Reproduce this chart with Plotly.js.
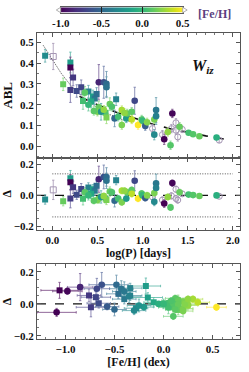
<!DOCTYPE html>
<html><head><meta charset="utf-8">
<script src="https://cdn.plot.ly/plotly-3.0.1.min.js"></script>
<style>html,body{margin:0;padding:0;background:#fff}#chart{width:249px;height:372px}</style>
</head><body><div id="chart"></div>
<script>
// ---- data ----
const logP = [-0.08,0.01,0.12,0.20,0.20,0.20,0.23,0.27,0.32,0.36,
  0.34,0.40,0.45,0.47,0.49,0.515,0.515,0.50,0.57,0.60,
  0.60,0.637,0.59,0.60,0.707,0.69,0.73,0.77,0.77,0.82,
  0.83,0.88,0.913,0.95,0.99,1.00,1.03,1.13,1.15,1.15,
  1.13,1.11,1.24,1.22,1.28,1.31,1.33,1.32,1.37,1.39,
  1.37,1.41,1.44,1.51,1.56,1.63,1.82,1.85,0.54,0.57,
  0.88,0.46,0.40,0.43,0.66,1.05,0.80];
const abl = [0.435,0.432,0.298,0.403,0.379,0.271,0.331,0.266,0.284,0.258,
  0.218,0.263,0.24,0.23,0.252,0.308,0.187,0.166,0.308,0.30,
  0.284,0.203,0.161,0.139,0.226,0.134,0.142,0.174,0.102,0.134,
  0.158,0.166,0.219,0.102,0.129,0.123,0.097,0.129,0.174,0.145,
  0.056,0.085,0.034,0.056,0.069,0.005,0.158,0.085,0.113,0.045,
  0.077,0.094,0.081,0.065,0.058,0.048,0.042,0.029,0.166,0.176,
  0.129,0.17,0.20,0.215,0.19,0.115,0.16];
const ablErr = [0.03,0.063,0.03,0.05,0.05,0.06,0.04,0.03,0.035,0.03,
  0.04,0.03,0.03,0.03,0.03,0.085,0.03,0.02,0.077,0.06,
  0.05,0.03,0.03,0.03,0.03,0.04,0.02,0.02,0.02,0.02,
  0.02,0.02,0.065,0.02,0.02,0.02,0.02,0.02,0.06,0.04,
  0.025,0.02,0.025,0.02,0.02,0.02,0.02,0.02,0.02,0.02,
  0.02,0.02,0.015,0.01,0.01,0.01,0.01,0.01,0.04,0.02,
  0.02,0.02,0.03,0.03,0.02,0.02,0.02];
const delta = [-0.027,0.036,-0.038,0.112,0.085,-0.021,0.053,0.004,0.042,0.02,
  -0.022,0.052,0.04,0.03,0.063,0.105,-0.02,-0.03,0.12,0.12,
  0.095,0.025,-0.02,-0.03,0.099,-0.035,-0.02,0.03,-0.045,-0.02,
  0.02,0.035,0.095,-0.021,0.012,0.0,-0.017,0.015,0.078,0.048,
  -0.042,-0.01,-0.053,-0.03,-0.01,-0.078,0.08,-0.003,0.04,-0.03,
  -0.02,0.02,0.01,0.005,0.002,-0.004,0.0,-0.006,-0.01,-0.005,
  0.01,-0.035,0.0,0.01,0.02,0.0,0.03];
const feh = [-0.28,null,0.15,-0.18,-1.06,-0.74,-0.76,-0.66,-0.69,0.12,
  0.05,-0.34,-0.16,-0.4,-0.46,-0.85,0.15,0.2,-0.63,-0.48,
  -0.43,0.15,0.1,0.2,-0.34,-0.5,0.05,0.3,0.2,-0.2,
  0.15,0.12,-0.68,0.54,0.1,0.0,-0.575,0.2,-0.4,-0.35,
  -0.3,null,-1.09,null,0.25,0.1,-0.98,null,null,null,
  null,0.15,null,0.05,0.1,0.15,-0.05,null,-0.25,0.25,
  0.35,0.12,0.0,-0.1,0.08,0.22,0.25];
const fehErr = [0.12,0,0.1,0.15,0.19,0.15,0.12,0.12,0.15,0.1,
  0.1,0.12,0.15,0.12,0.12,0.13,0.1,0.1,0.13,0.12,
  0.12,0.1,0.1,0.1,0.12,0.12,0.1,0.1,0.1,0.1,
  0.1,0.1,0.13,0.1,0.1,0.1,0.12,0.1,0.12,0.12,
  0.12,0,0.2,0,0.1,0.1,0.15,0,0,0,
  0,0.1,0,0.1,0.1,0.1,0.1,0,0.12,0.1,
  0.12,0.1,0.1,0.1,0.1,0.1,0.1];
const shape = ['s','s','s','s','s','s','s','s','s','c',
  's','s','s','s','s','c','c','c','c','c',
  'c','c','s','s','s','c','c','c','c','c',
  'c','c','c','c','c','c','c','c','c','c',
  'c','c','c','c','c','c','c','c','c','c',
  'c','c','c','c','c','c','c','c','c','c',
  'c','c','c','s','c','c','c'];
// fitted relations
const dotLogP = [-0.1,0.0,0.1,0.2,0.3,0.4,0.5,0.6,0.7,0.8,0.9];
const dotABL  = [0.485,0.415,0.35,0.295,0.25,0.215,0.185,0.16,0.14,0.125,0.115];
const dashLogP = [0.3,0.5,0.7,0.9,1.1,1.3,1.5,1.7,1.9];
const dashABL  = [0.24,0.2,0.165,0.135,0.108,0.085,0.066,0.05,0.035];
const scatterLimits = [0.14,-0.14];
const limitSpan = [0.0,2.0];
const cbTicks = [-1.0,-0.5,0.0,0.5];
const CMIN = -1.0, CMAX = 0.5;

// ---- helpers ----
const VIR = ['#440154','#48186a','#472d7b','#424086','#3b528b','#33638d','#2c728e','#26828e','#21918c','#1fa088','#28ae80','#3fbc73','#5ec962','#84d44b','#addc30','#d8e219','#fde725'];
function hex2rgb(h){return [parseInt(h.slice(1,3),16),parseInt(h.slice(3,5),16),parseInt(h.slice(5,7),16)];}
function viridis(t){t=Math.max(0,Math.min(1,t));const s=t*(VIR.length-1);const i=Math.min(VIR.length-2,Math.floor(s));const f=s-i;const a=hex2rgb(VIR[i]),b=hex2rgb(VIR[i+1]);return a.map((v,k)=>v+(b[k]-v)*f);}
function errColor(f){const c=viridis((f-CMIN)/(CMAX-CMIN));const m=c.map(v=>Math.round(v*0.7+255*0.3));return 'rgba('+m.join(',')+',0.85)';}
const OPEN_COL = '#a596b4';

const traces = [];
const serif = 'Liberation Serif, Times New Roman, serif';
// colour-scale strip (legend gradient)
const cbSteps = [];
for(let k=0;k<=120;k++) cbSteps.push(CMIN+(CMAX-CMIN)*k/120);
traces.push({type:'heatmap',x:cbSteps,y:[0],z:[cbSteps],xaxis:'x4',yaxis:'y4',colorscale:'Viridis',zmin:CMIN,zmax:CMAX,showscale:false,hoverinfo:'skip'});

traces.push({x:dotLogP,y:dotABL,xaxis:'x',yaxis:'y',mode:'lines',line:{color:'#222',width:1,dash:'1px,1.5px'},hoverinfo:'skip'});
traces.push({x:dashLogP,y:dashABL,xaxis:'x',yaxis:'y',mode:'lines',line:{color:'#111',width:1.6,dash:'dash'},hoverinfo:'skip'});
scatterLimits.forEach(v=>traces.push({x:limitSpan,y:[v,v],xaxis:'x2',yaxis:'y2',mode:'lines',line:{color:'#555',width:1,dash:'1px,1.5px'},hoverinfo:'skip'}));

// error bars, one trace per point
for(let i=0;i<logP.length;i++){
  const col = feh[i]==null ? 'rgba(165,150,180,0.8)' : errColor(feh[i]);
  const eb = {type:'data',array:[ablErr[i]],color:col,thickness:1,width:1.2};
  traces.push({x:[logP[i]],y:[abl[i]],xaxis:'x',yaxis:'y',mode:'markers',marker:{size:1,opacity:0},error_y:eb,hoverinfo:'skip'});
  traces.push({x:[logP[i]],y:[delta[i]],xaxis:'x2',yaxis:'y2',mode:'markers',marker:{size:1,opacity:0},error_y:eb,hoverinfo:'skip'});
  if(feh[i]!=null){
    traces.push({x:[feh[i]],y:[delta[i]],xaxis:'x3',yaxis:'y3',mode:'markers',marker:{size:1,opacity:0},error_y:eb,
      error_x:{type:'data',array:[fehErr[i]],color:col,thickness:1,width:1.2},hoverinfo:'skip'});
  }
}

function pick(cond){const o=[];for(let i=0;i<logP.length;i++) if(cond(i)) o.push(i);return o;}
function colored(ix, xs, ys, xa, ya, sym){
  return {x:ix.map(i=>xs[i]),y:ix.map(i=>ys[i]),xaxis:xa,yaxis:ya,mode:'markers',hoverinfo:'skip',
    marker:{symbol:sym,size:sym==='square'?6:6.6,color:ix.map(i=>feh[i]),colorscale:'Viridis',cmin:CMIN,cmax:CMAX,line:{width:0},showscale:false}};
}
function open(ix, xs, ys, xa, ya, sym){
  return {x:ix.map(i=>xs[i]),y:ix.map(i=>ys[i]),xaxis:xa,yaxis:ya,mode:'markers',hoverinfo:'skip',
    marker:{symbol:sym,size:6,color:OPEN_COL,line:{width:1,color:OPEN_COL}}};
}
const sqC = pick(i=>feh[i]!=null&&shape[i]==='s'), ciC = pick(i=>feh[i]!=null&&shape[i]==='c');
const sqO = pick(i=>feh[i]==null&&shape[i]==='s'), ciO = pick(i=>feh[i]==null&&shape[i]==='c');
[['x','y',abl],['x2','y2',delta]].forEach(([xa,ya,ys])=>{
  traces.push(open(sqO,logP,ys,xa,ya,'square-open'));
  traces.push(open(ciO,logP,ys,xa,ya,'circle-open'));
  traces.push(colored(sqC,logP,ys,xa,ya,'square'));
  traces.push(colored(ciC,logP,ys,xa,ya,'circle'));
});
traces.push(colored(sqC,feh,delta,'x3','y3','square'));
traces.push(colored(ciC,feh,delta,'x3','y3','circle'));

const tickFont = {family:serif,size:11,color:'#111',weight:'bold'};
const titleFont = {family:serif,size:12,color:'#111',weight:'bold'};
const base = {showline:true,linecolor:'#555',linewidth:1,mirror:'allticks',ticks:'inside',ticklen:4,tickwidth:1,tickcolor:'#555',
  showgrid:false,zeroline:false,tickfont:tickFont,automargin:false,tickformat:'.1f'};
const minor = d=>({ticks:'inside',ticklen:2,tickcolor:'#777',dtick:d,showgrid:false});
// pixel layout helpers
const L=37,R=9,T=5,B=33,W=249,H=372;
const px2x = p=>(p-L)/(W-L-R), py2y = p=>(H-B-p)/(H-T-B);
const dom = (top,bot)=>[py2y(bot),py2y(top)];
const tri = (pts)=>'M'+pts.map(p=>px2x(p[0])+','+py2y(p[1])).join(' L')+' Z';

const layout = {
  width:W,height:H,margin:{l:L,r:R,t:T,b:B},paper_bgcolor:'#fff',plot_bgcolor:'#fff',showlegend:false,
  xaxis:{...base,domain:[0,1],anchor:'y',range:[-0.17,2.08],dtick:0.5,tick0:0,showticklabels:false,minor:minor(0.1)},
  yaxis:{...base,domain:dom(33,157.7),anchor:'x',range:[-0.055,0.545],dtick:0.1,tick0:0,minor:minor(0.05),
    title:{text:'ABL',font:{...titleFont,size:13},standoff:6}},
  xaxis2:{...base,domain:[0,1],anchor:'y2',range:[-0.17,2.08],dtick:0.5,tick0:0,minor:minor(0.1),
    title:{text:'log(P) [days]',font:titleFont,standoff:2}},
  yaxis2:{...base,domain:dom(157.7,230),anchor:'x2',range:[-0.225,0.245],dtick:0.2,tick0:0,minor:minor(0.05),
    title:{text:'Δ',font:titleFont,standoff:6}},
  xaxis3:{...base,domain:[0,1],anchor:'y3',range:[-1.29,0.78],dtick:0.5,tick0:0,minor:minor(0.1),
    title:{text:'[Fe/H] (dex)',font:titleFont,standoff:2}},
  yaxis3:{...base,domain:dom(264,339),anchor:'x3',range:[-0.22,0.25],dtick:0.2,tick0:0,minor:minor(0.05),
    title:{text:'Δ',font:titleFont,standoff:6}},
  xaxis4:{domain:[px2x(60.7),px2x(182.7)],anchor:'y4',range:[CMIN,CMAX],tickvals:cbTicks,ticktext:cbTicks.map(v=>v.toFixed(1)),
    ticks:'inside',ticklen:5.4,tickwidth:1,tickcolor:'#222',showline:true,linecolor:'#333',linewidth:0.8,mirror:true,
    showgrid:false,zeroline:false,tickfont:tickFont,automargin:false,fixedrange:true,side:'bottom'},
  yaxis4:{domain:dom(7.3,12.7),anchor:'x4',range:[-0.5,0.5],showticklabels:false,ticks:'',showline:true,linecolor:'#333',linewidth:0.8,mirror:true,
    showgrid:false,zeroline:false,automargin:false,fixedrange:true},
  shapes:[
    {type:'line',xref:'x2 domain',yref:'y2',x0:0,x1:1,y0:0,y1:0,line:{color:'#111',width:1.4,dash:'dash'},layer:'below'},
    {type:'line',xref:'x3 domain',yref:'y3',x0:0,x1:1,y0:0,y1:0,line:{color:'#111',width:1.4,dash:'dash'},layer:'below'},
    {type:'path',xref:'paper',yref:'paper',path:tri([[56.3,10],[60.7,7.3],[60.7,12.7]]),fillcolor:'#fff',line:{color:'#999',width:0.8}},
    {type:'path',xref:'paper',yref:'paper',path:tri([[187.2,10],[182.7,7.3],[182.7,12.7]]),fillcolor:'#fff',line:{color:'#999',width:0.8}}
  ],
  annotations:[
    {xref:'paper',yref:'paper',x:px2x(216),y:py2y(55),showarrow:false,
     text:'<b><i>W</i></b><sub><b><i>iz</i></b></sub>',font:{family:serif,size:16,color:'#111'}},
    {xref:'paper',yref:'paper',x:px2x(196),y:py2y(14),xanchor:'left',yanchor:'middle',showarrow:false,
     text:'<b>[Fe/H]</b>',font:{family:serif,size:12,color:'#5b3f80'}}
  ]
};
Plotly.newPlot('chart',traces,layout,{displayModeBar:false,staticPlot:true});
</script></body></html>
